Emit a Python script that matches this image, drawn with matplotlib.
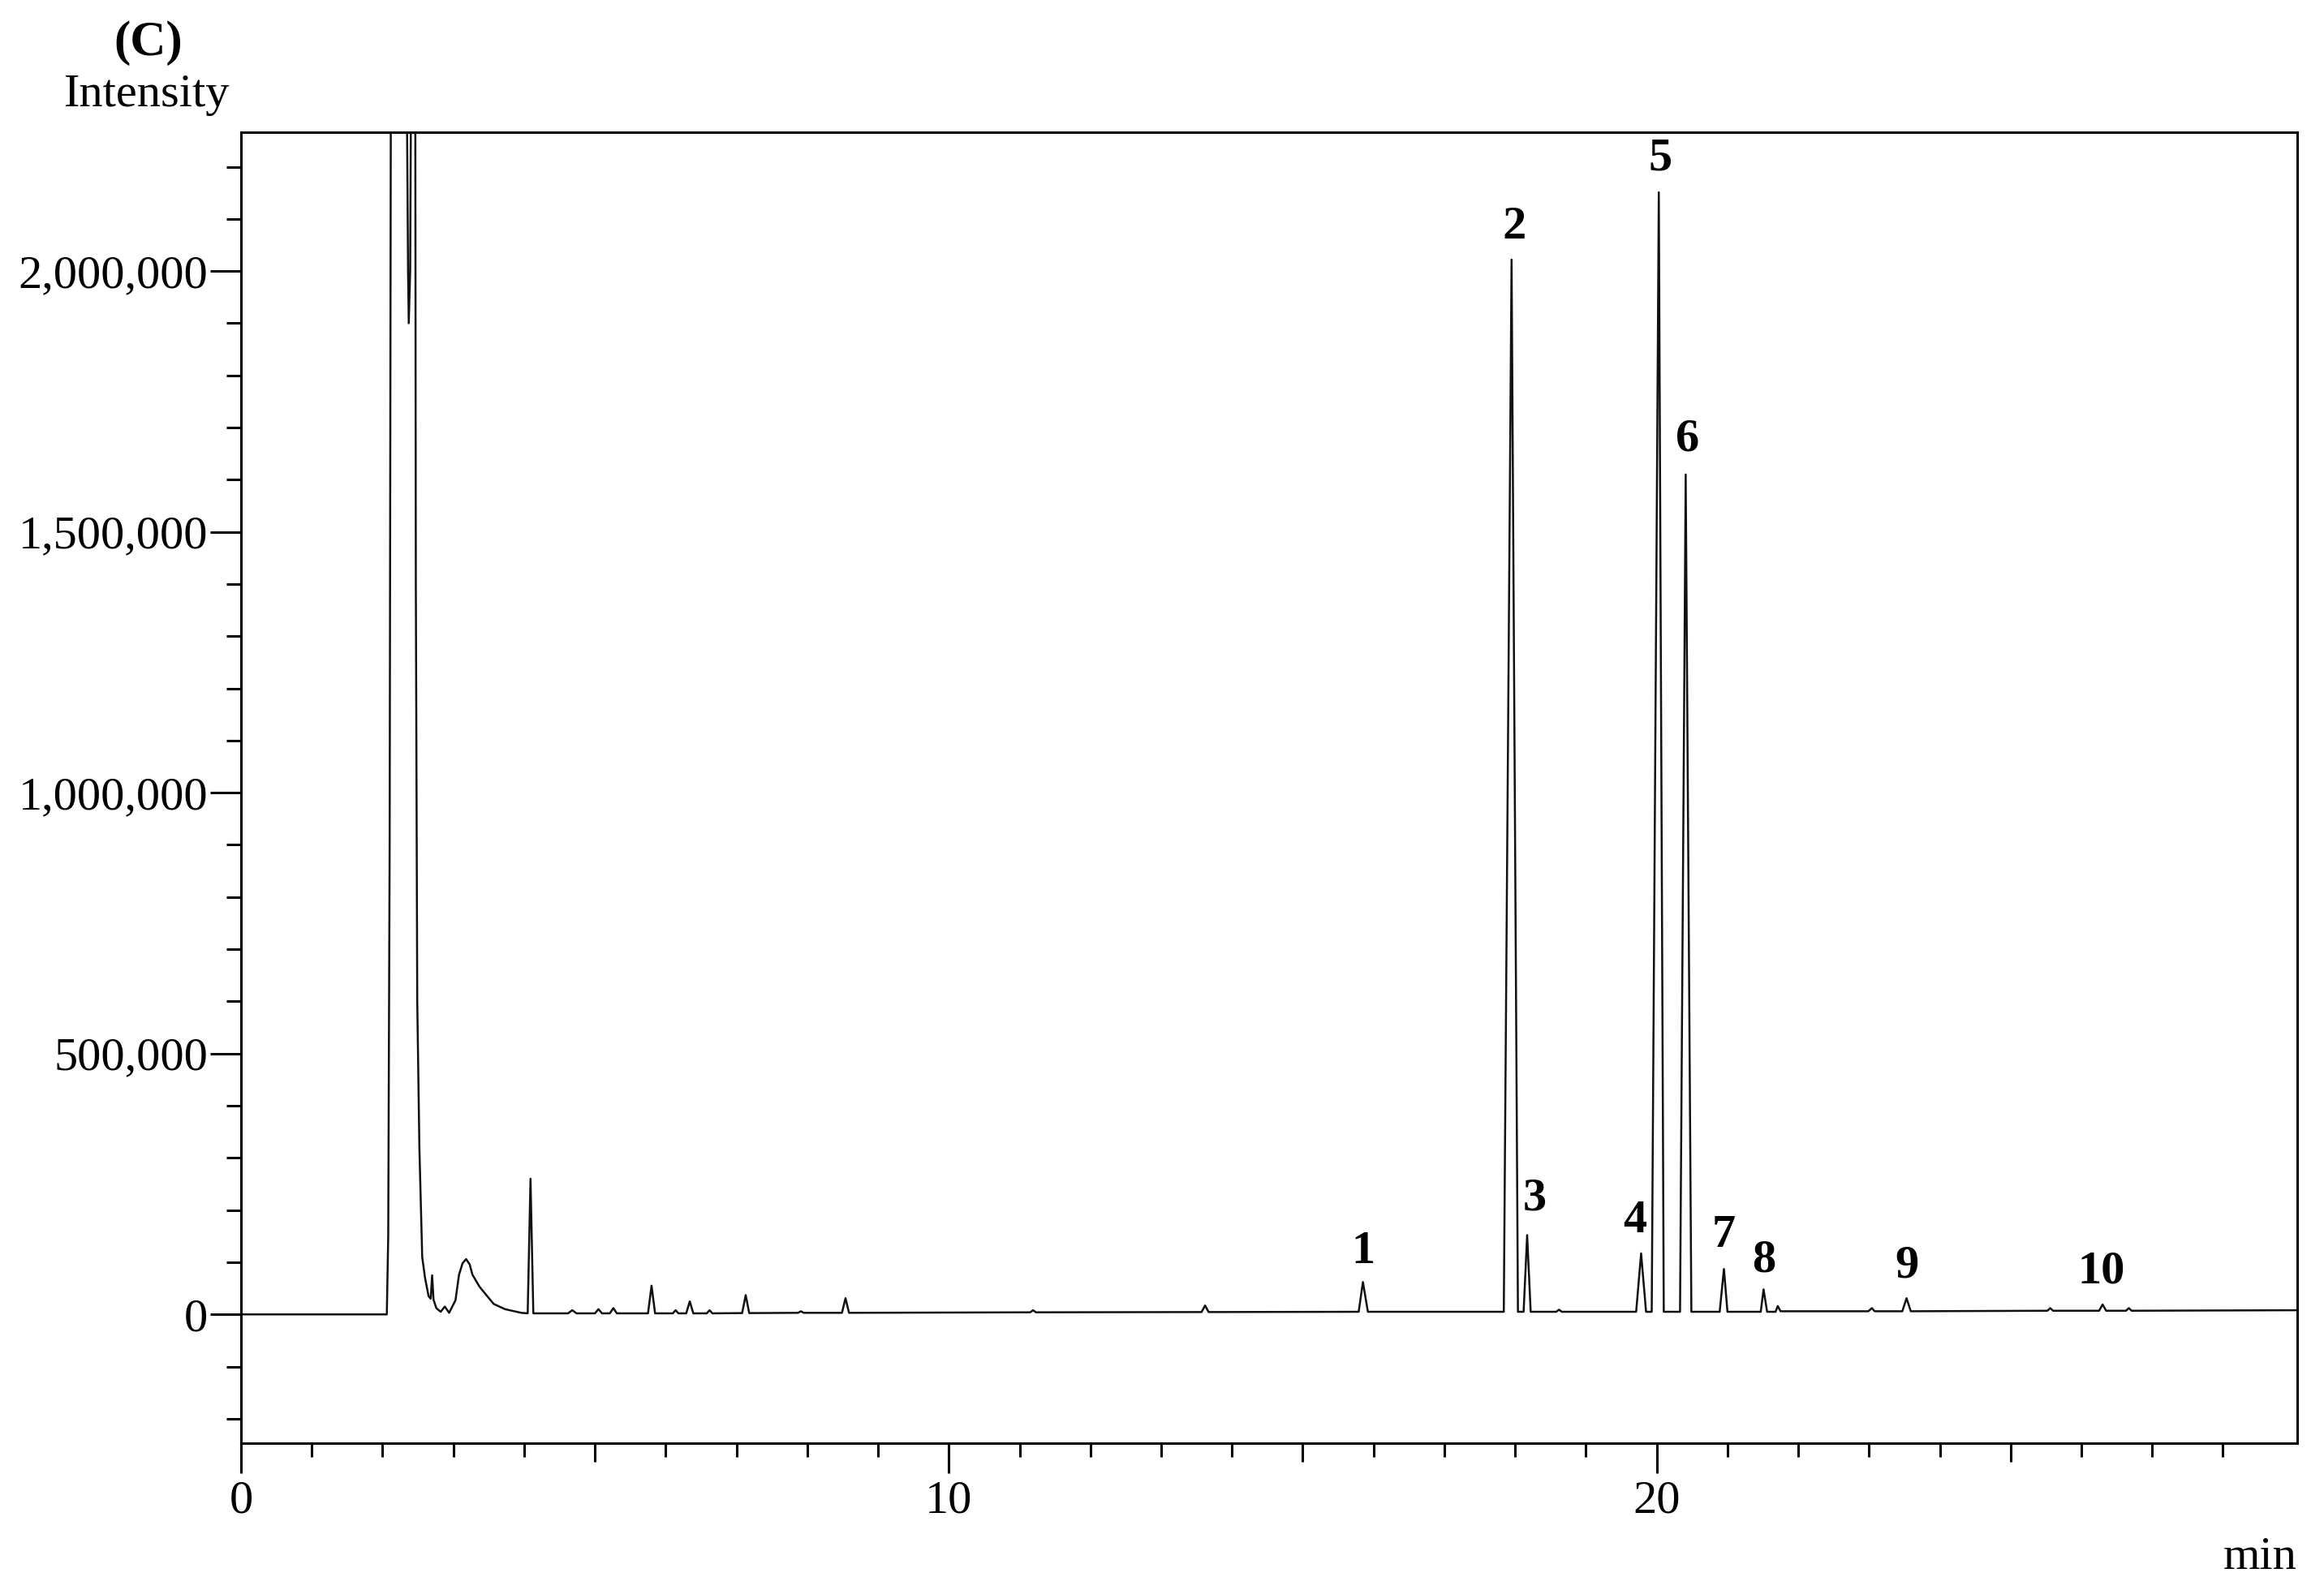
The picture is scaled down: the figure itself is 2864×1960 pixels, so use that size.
import matplotlib
matplotlib.use("Agg")
import matplotlib.pyplot as plt
from matplotlib.ticker import FuncFormatter, MultipleLocator, FixedLocator

plt.rcParams['font.family'] = ['Liberation Serif', 'DejaVu Serif']

# chromatogram trace: retention time (min), intensity
time_min = [
    0.00, 2.06, 2.08, 2.10, 2.12, 2.33, 2.36, 2.37, 2.39, 2.41, 2.46, 2.47,
    2.49, 2.52, 2.56, 2.60, 2.65, 2.68, 2.70, 2.72, 2.76, 2.82, 2.88, 2.94,
    3.03, 3.08, 3.13, 3.18, 3.23, 3.27, 3.37, 3.46, 3.57, 3.73, 3.96, 4.05,
    4.09, 4.13,
    4.62, 4.68, 4.74, 5.00, 5.05, 5.10, 5.21, 5.26, 5.31, 5.75, 5.80, 5.85,
    6.10, 6.14, 6.18, 6.29, 6.34, 6.39, 6.58, 6.62, 6.66, 7.08, 7.13, 7.18,
    7.87, 7.91, 7.95, 8.49, 8.54, 8.59, 11.15, 11.19, 11.23, 13.57, 13.62,
    13.67, 15.79, 15.85, 15.92, 17.84, 17.95, 18.04, 18.12, 18.17, 18.22,
    18.58, 18.62, 18.66, 19.71, 19.78, 19.85, 19.93, 20.03, 20.10, 20.33,
    20.41, 20.49, 20.89, 20.95, 21.00, 21.47, 21.51, 21.56, 21.68, 21.71,
    21.75, 22.99, 23.04, 23.08, 23.47, 23.53, 23.59, 25.52, 25.56, 25.60,
    26.25, 26.30, 26.35, 26.63, 26.67, 26.71, 29.05,
]
intensity = [
    0, 0, 150000, 900000, 2600000, 2600000, 2000000, 1900000, 2000000,
    2600000, 2600000, 1400000, 600000, 320000, 110000, 70000, 35000, 30000,
    75000, 28000, 12000, 5000, 15000, 3000, 27000, 76000, 98000, 106000,
    96000, 76000,
    53000, 38000, 20000, 10000, 3000, 2000, 260000, 2000, 2000, 8000, 2000,
    2000, 10000, 2000, 2000, 12000, 2000, 2000, 55000, 2000, 2000, 8000,
    2000, 2000, 25000, 2000, 2000, 8000, 2000, 2500, 37000, 2500, 3000,
    6000, 3000, 3000, 31000, 3000, 4000, 8000, 4000, 4500, 17000, 4500,
    5000, 62000, 5000, 5000, 2022000, 5000, 5000, 152000, 5000, 5000, 9000,
    5000, 5000, 117000, 5000, 5000, 2151000, 5000, 5000, 1610000, 5000,
    5000, 87000, 5000, 5000, 48000, 5000, 5000, 16000, 6000, 6000, 12000,
    6000, 6000, 31000, 6000, 7000, 12000, 7000, 7000, 19000, 7000, 7000,
    12000, 7000, 8000,
]

# peak numbers and where they are written
peak_labels = ['1', '2', '3', '4', '5', '6', '7', '8', '9', '10']
label_t = [15.85, 17.99, 18.28, 19.69, 20.05, 20.43, 20.95, 21.51, 23.54, 26.28]
label_y = [120000, 2084000, 222000, 179000, 2216000, 1677000, 151000,
           104000, 93000, 82000]

y_ticks = [0, 500000, 1000000, 1500000, 2000000]
x_ticks = [0, 10, 20]

fig = plt.figure(figsize=(14.32, 9.8), dpi=200)
ax = fig.add_axes([0.1037, 0.0923, 0.8848, 0.8245])

ax.plot(time_min, intensity, color='#111111', lw=0.9)

ax.set_xlim(0, 29.05)
ax.set_ylim(-247000, 2266000)

ax.set_yticks(y_ticks)
ax.yaxis.set_minor_locator(MultipleLocator(100000))
ax.yaxis.set_major_formatter(FuncFormatter(lambda v, p: f"{int(v):,}"))
ax.set_xticks(x_ticks)
ax.xaxis.set_minor_locator(FixedLocator([i for i in range(1, 29) if i % 5]))

ax.tick_params(axis='y', which='major', length=13.7, width=1.1, pad=1,
               labelsize=21)
ax.tick_params(axis='y', which='minor', length=6.5, width=1.1)
ax.tick_params(axis='x', which='major', length=13.3, width=1.1, pad=3,
               labelsize=21)
ax.tick_params(axis='x', which='minor', length=6.1, width=1.1)

sec = ax.secondary_xaxis('bottom')
sec.set_xticks([5, 15, 25])
sec.tick_params(axis='x', length=8.3, width=1.1, labelbottom=False)
sec.spines['bottom'].set_visible(False)

for s in ax.spines.values():
    s.set_linewidth(1.1)

for lab, t, y in zip(peak_labels, label_t, label_y):
    ax.text(t, y, lab, ha='center', va='center', fontsize=21,
            fontweight='bold')

fig.text(0.0639, 0.973, '(C)', ha='center', va='center', fontsize=22,
         fontweight='bold')
fig.text(0.0632, 0.9405, 'Intensity', ha='center', va='center', fontsize=21)
fig.text(0.9885, 0.0205, 'min', ha='right', va='center', fontsize=21)

fig.savefig('out.png', dpi=200)
